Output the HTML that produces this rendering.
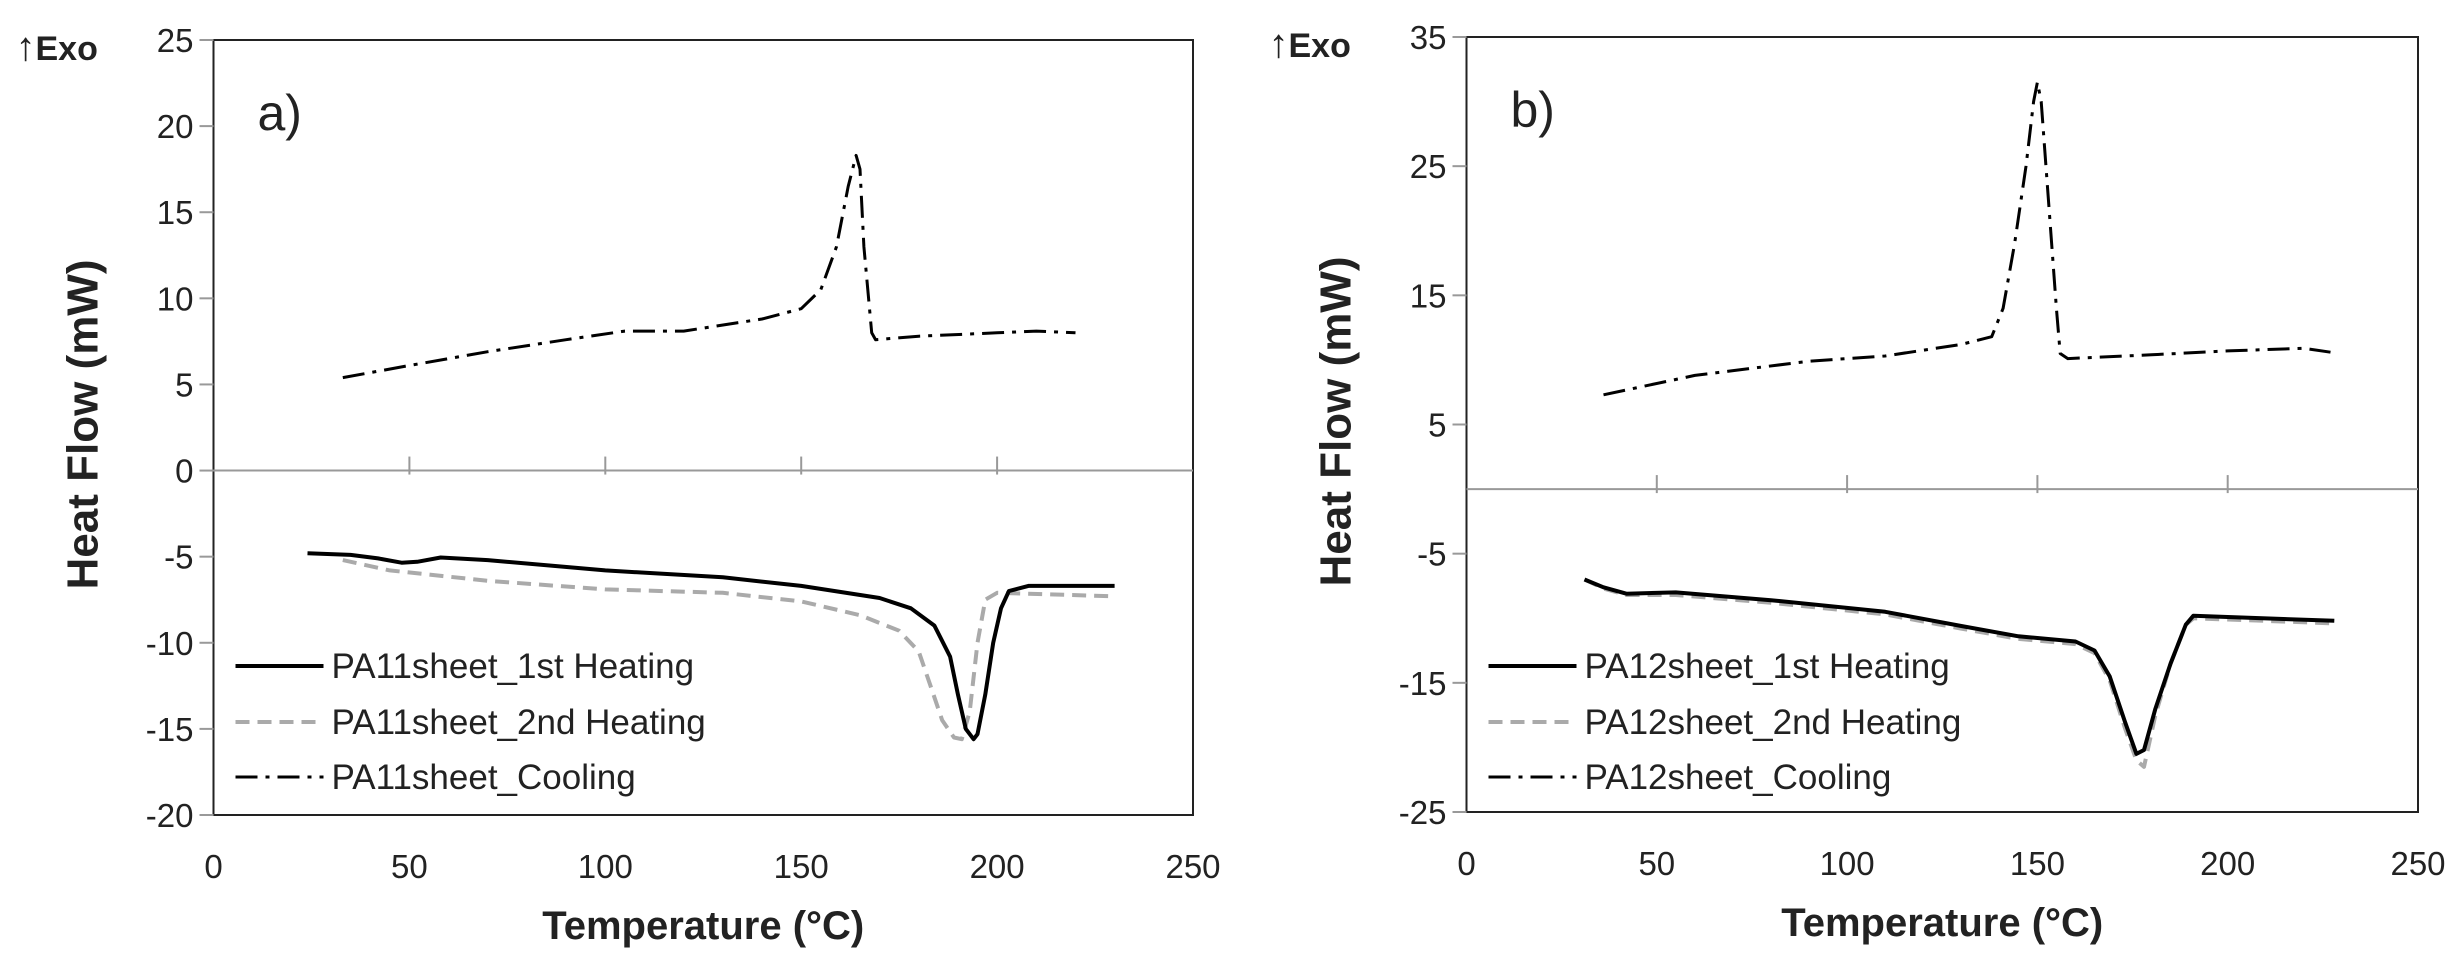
<!DOCTYPE html>
<html><head><meta charset="utf-8"><style>
html,body{margin:0;padding:0;background:#fff;}
svg text{font-family:"Liberation Sans",sans-serif;fill:#222;}
</style></head><body>
<svg id="s" width="2462" height="963" xmlns="http://www.w3.org/2000/svg"></svg>
<script>
const s=document.getElementById('s');let h='';
function panel(o){
 const {L,R,T,B,ymax,ymin,ystep}=o;
 const X=t=>L+(R-L)*t/250, Y=v=>T+(B-T)*(ymax-v)/(ymax-ymin);
 h+=`<rect x="${L}" y="${T}" width="${R-L}" height="${B-T}" fill="none" stroke="#222" stroke-width="2"/>`;
 h+=`<line x1="${L}" y1="${Y(0)}" x2="${R}" y2="${Y(0)}" stroke="#999" stroke-width="2"/>`;
 for(let t=50;t<250;t+=50)h+=`<line x1="${X(t)}" y1="${Y(0)-14}" x2="${X(t)}" y2="${Y(0)+4}" stroke="#999" stroke-width="2"/>`;
 for(let v=ymin;v<=ymax;v+=ystep){if(v===0&&!o.showZero)continue;
  h+=`<line x1="${L-14}" y1="${Y(v)}" x2="${L}" y2="${Y(v)}" stroke="#999" stroke-width="2"/>`;
  h+=`<text x="${L-20}" y="${Y(v)+12}" font-size="33" text-anchor="end">${v}</text>`;}
 for(let t=0;t<=250;t+=50)h+=`<text x="${X(t)}" y="${B+63}" font-size="33" text-anchor="middle">${t}</text>`;
 h+=`<text x="${(L+R)/2}" y="${B+124}" font-size="40" font-weight="bold" text-anchor="middle">Temperature (°C)</text>`;
 h+=`<text transform="translate(${L-116},${(T+B)/2-3}) rotate(-90)" font-size="44" font-weight="bold" text-anchor="middle">Heat Flow (mW)</text>`;
 h+=`<text x="${L-198}" y="${T+20}" font-size="40"><tspan>↑</tspan><tspan font-weight="bold" font-size="34">Exo</tspan></text>`;
 h+=`<text x="${L+44}" y="${T+90}" font-size="50">${o.lab}</text>`;
 const line=(pts,st)=>{h+=`<polyline fill="none" ${st} stroke-linejoin="round" points="${pts.map(p=>X(p[0]).toFixed(1)+','+Y(p[1]).toFixed(1)).join(' ')}"/>`;};
 const S1='stroke="#000" stroke-width="4"',S2='stroke="#aaa" stroke-width="4" stroke-dasharray="14,8"',S3='stroke="#000" stroke-width="3" stroke-dasharray="22,8,4,8"';
 line(o.c2,S2);line(o.c1,S1);line(o.c3,S3);
 const lx=L+22,rows=[[666,S1,'1st Heating'],[722,S2,'2nd Heating'],[777,S3,'Cooling']];
 rows.forEach(r=>{h+=`<line x1="${lx}" y1="${r[0]}" x2="${lx+88}" y2="${r[0]}" ${r[1]}/>`;
  h+=`<text x="${lx+96}" y="${r[0]+12}" font-size="35">${o.name}_${r[2]}</text>`;});
}
panel({L:213.5,R:1193,T:40,B:815,ymax:25,ymin:-20,ystep:5,showZero:true,lab:'a)',name:'PA11sheet',
c3:[[33,5.4],[50,6.1],[70,6.9],[90,7.6],[105,8.1],[120,8.1],[140,8.8],[150,9.4],[155,10.5],[159,13],[162,16.5],[164,18.3],[165,17.5],[166,13],[168,8],[169,7.6],[180,7.8],[200,8.0],[210,8.1],[220,8.0]],
c1:[[24,-4.8],[35,-4.9],[42,-5.1],[48,-5.35],[52,-5.3],[58,-5.05],[70,-5.2],[100,-5.8],[130,-6.2],[150,-6.7],[170,-7.4],[178,-8],[184,-9],[188,-10.8],[190,-13],[192,-15],[194,-15.6],[195,-15.3],[197,-13],[199,-10],[201,-8],[203,-7],[208,-6.7],[230,-6.7]],
c2:[[33,-5.2],[45,-5.8],[70,-6.4],[100,-6.9],[130,-7.1],[150,-7.6],[165,-8.4],[175,-9.3],[180,-10.5],[183,-12.5],[186,-14.5],[189,-15.5],[191,-15.6],[193,-14],[195,-10],[197,-7.5],[200,-7.1],[230,-7.3]]});
panel({L:1466.5,R:2418,T:37,B:812,ymax:35,ymin:-25,ystep:10,showZero:false,lab:'b)',name:'PA12sheet',
c3:[[36,7.3],[60,8.8],[90,9.9],[110,10.3],[130,11.2],[138,11.8],[141,14],[144,19],[147,25],[149,30],[150,31.5],[151,30],[153,22],[155,14],[156,10.5],[158,10.1],[180,10.4],[200,10.7],[220,10.9],[227,10.6]],
c1:[[31,-7],[36,-7.6],[42,-8.1],[55,-8.0],[80,-8.6],[110,-9.5],[130,-10.6],[145,-11.4],[160,-11.8],[165,-12.5],[169,-14.5],[173,-18],[176,-20.5],[178,-20.2],[181,-17],[185,-13.5],[189,-10.5],[191,-9.8],[200,-9.9],[228,-10.2]],
c2:[[31,-7],[36,-7.7],[42,-8.2],[55,-8.2],[80,-8.8],[110,-9.7],[130,-10.8],[145,-11.6],[160,-12],[165,-12.7],[169,-14.8],[173,-18.5],[176,-21],[178,-21.5],[181,-17.5],[185,-13.5],[189,-10.5],[191,-10],[200,-10.1],[228,-10.4]]});
s.innerHTML=h;
</script>
</body></html>
